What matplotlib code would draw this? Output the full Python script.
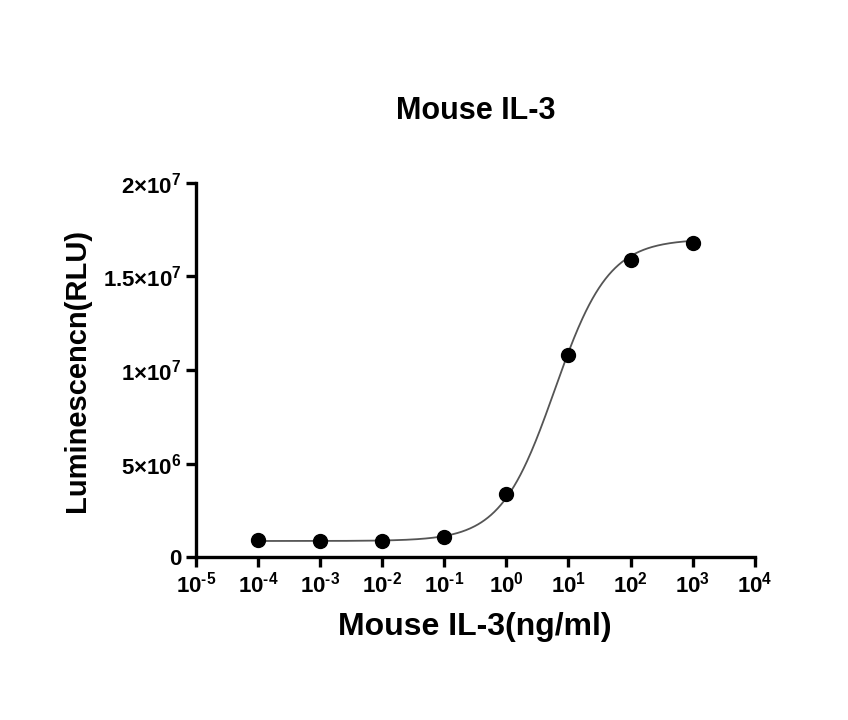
import numpy as np
import matplotlib
matplotlib.use("Agg")
import matplotlib.pyplot as plt

plt.rcParams['font.family'] = ['Liberation Sans', 'DejaVu Sans']
plt.rcParams['font.weight'] = 'bold'
plt.rcParams['mathtext.fontset'] = 'custom'
plt.rcParams['mathtext.rm'] = 'Liberation Sans:bold'
plt.rcParams['mathtext.it'] = 'Liberation Sans:bold'
plt.rcParams['mathtext.bf'] = 'Liberation Sans:bold'
plt.rcParams['mathtext.default'] = 'bf'

conc = [1e-4, 1e-3, 1e-2, 1e-1, 1e0, 1e1, 1e2, 1e3]
rlu = [0.90e6, 0.86e6, 0.88e6, 1.10e6, 3.40e6, 10.8e6, 15.9e6, 16.8e6]

# 4PL fit parameters
bottom, top, ec50, hill = 0.87e6, 17.0e6, 6.0, 1.0

fig = plt.figure(figsize=(8.48, 7.2), dpi=100)
ax = fig.add_axes([0.231, 0.226, 0.659, 0.52])

xs = np.logspace(-4, 3, 400)
ys = bottom + (top - bottom) / (1 + (ec50 / xs) ** hill)
ax.plot(xs, ys, color='#555555', lw=1.3)
ax.plot(conc, rlu, 'o', color='black', ms=10, clip_on=False, zorder=3)

ax.set_xscale('log')
ax.set_xlim(1e-5, 1e4)
ax.set_ylim(0, 2e7)
xt = [10.0 ** k for k in range(-5, 5)]
ax.set_xticks(xt)
ax.set_xticklabels([rf'$10^{{\text{{{k}}}}}$' for k in range(-5, 5)])
ax.minorticks_off()
ax.set_yticks([0, 5e6, 1e7, 1.5e7, 2e7])
ax.set_yticklabels(['0', r'$5{\times}10^{6}$', r'$1{\times}10^{7}$', r'$1.5{\times}10^{7}$', r'$2{\times}10^{7}$'])

for s in ['top', 'right']:
    ax.spines[s].set_visible(False)
for s in ['left', 'bottom']:
    ax.spines[s].set_linewidth(2.4)
ax.tick_params(width=2.4, length=7, labelsize=16, direction='out')

ax.set_title('Mouse IL-3', fontsize=22, fontweight='bold', pad=46)
ax.set_xlabel('Mouse IL-3(ng/ml)', fontsize=23, fontweight='bold', labelpad=10)
ax.set_ylabel('Luminescencn(RLU)', fontsize=21, fontweight='bold', labelpad=8)

fig.savefig('out.png', dpi=100)
